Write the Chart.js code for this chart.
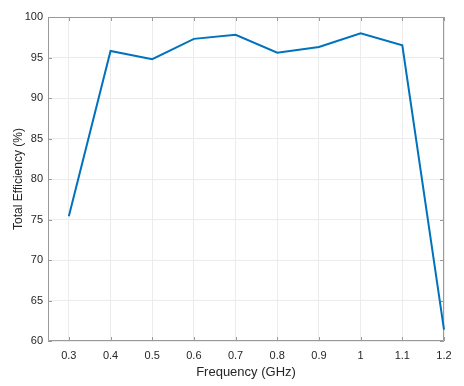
<!DOCTYPE html>
<html><head><meta charset="utf-8">
<script src="https://cdn.jsdelivr.net/npm/chart.js@4/dist/chart.umd.min.js"></script>
<style>html,body{margin:0;padding:0;background:#fff}#wrap{width:464px;height:386px}</style>
</head><body><div id="wrap"><canvas id="c" width="464" height="386"></canvas></div>
<script>
const frequencies = [0.3, 0.4, 0.5, 0.6, 0.7, 0.8, 0.9, 1.0, 1.1, 1.2];
const efficiency = [75.4, 95.8, 94.8, 97.3, 97.8, 95.6, 96.3, 98.0, 96.5, 61.4];
const xTicks = [0.3, 0.4, 0.5, 0.6, 0.7, 0.8, 0.9, 1.0, 1.1, 1.2];
const yTicks = [60, 65, 70, 75, 80, 85, 90, 95, 100];

const textColor = '#262626';
const axisColor = '#9a9a9a';
const font = "'Liberation Sans', Arial, Helvetica, sans-serif";

const boxPlugin = {
  id: 'box',
  beforeDatasetsDraw(chart) {
    const {ctx, chartArea: a, scales} = chart;
    ctx.save();
    ctx.strokeStyle = axisColor;
    ctx.lineWidth = 1;
    ctx.beginPath();
    ctx.rect(a.left + 0.5, a.top + 0.5, a.right - a.left - 1, a.bottom - a.top - 1);
    ctx.stroke();
    ctx.beginPath();
    const tl = 4;
    xTicks.forEach(v => {
      const px = Math.round(scales.x.getPixelForValue(v)) + 0.5;
      ctx.moveTo(px, a.bottom); ctx.lineTo(px, a.bottom - tl);
      ctx.moveTo(px, a.top); ctx.lineTo(px, a.top + tl);
    });
    yTicks.forEach(v => {
      const py = Math.round(scales.y.getPixelForValue(v)) + 0.5;
      ctx.moveTo(a.left, py); ctx.lineTo(a.left + tl, py);
      ctx.moveTo(a.right, py); ctx.lineTo(a.right - tl, py);
    });
    ctx.stroke();
    ctx.restore();
  }
};

new Chart(document.getElementById('c'), {
  type: 'line',
  data: {
    datasets: [{
      data: frequencies.map((f, i) => ({x: f, y: efficiency[i]})),
      borderColor: '#0072BD',
      borderWidth: 2,
      pointRadius: 0,
      tension: 0,
      fill: false,
      clip: false
    }]
  },
  options: {
    responsive: false,
    animation: false,
    devicePixelRatio: 1,
    layout: {padding: {top: 17, right: 20, left: 0, bottom: 0}},
    plugins: {legend: {display: false}, tooltip: {enabled: false}},
    scales: {
      x: {
        type: 'linear',
        min: 0.25, max: 1.2,
        afterBuildTicks: s => { s.ticks = xTicks.map(v => ({value: v})); },
        afterFit: s => { s.height = 45; },
        grid: {color: '#ececec', drawTicks: false},
        border: {display: false},
        ticks: {
          color: textColor, padding: 8, maxRotation: 0, autoSkip: false,
          font: {family: font, size: 11},
          callback: v => String(Math.round(v * 10) / 10)
        },
        title: {display: true, text: 'Frequency (GHz)', color: textColor,
          font: {family: font, size: 13}, padding: {top: 0, bottom: 6}}
      },
      y: {
        min: 60, max: 100,
        afterBuildTicks: s => { s.ticks = yTicks.map(v => ({value: v})); },
        afterFit: s => { s.width = 48; },
        grid: {color: '#ececec', drawTicks: false},
        border: {display: false},
        ticks: {color: textColor, padding: 5, font: {family: font, size: 11}},
        title: {display: true, text: 'Total Efficiency (%)', color: textColor,
          font: {family: font, size: 12}, padding: {top: 11, bottom: 0}}
      }
    }
  },
  plugins: [boxPlugin]
});
</script></body></html>
